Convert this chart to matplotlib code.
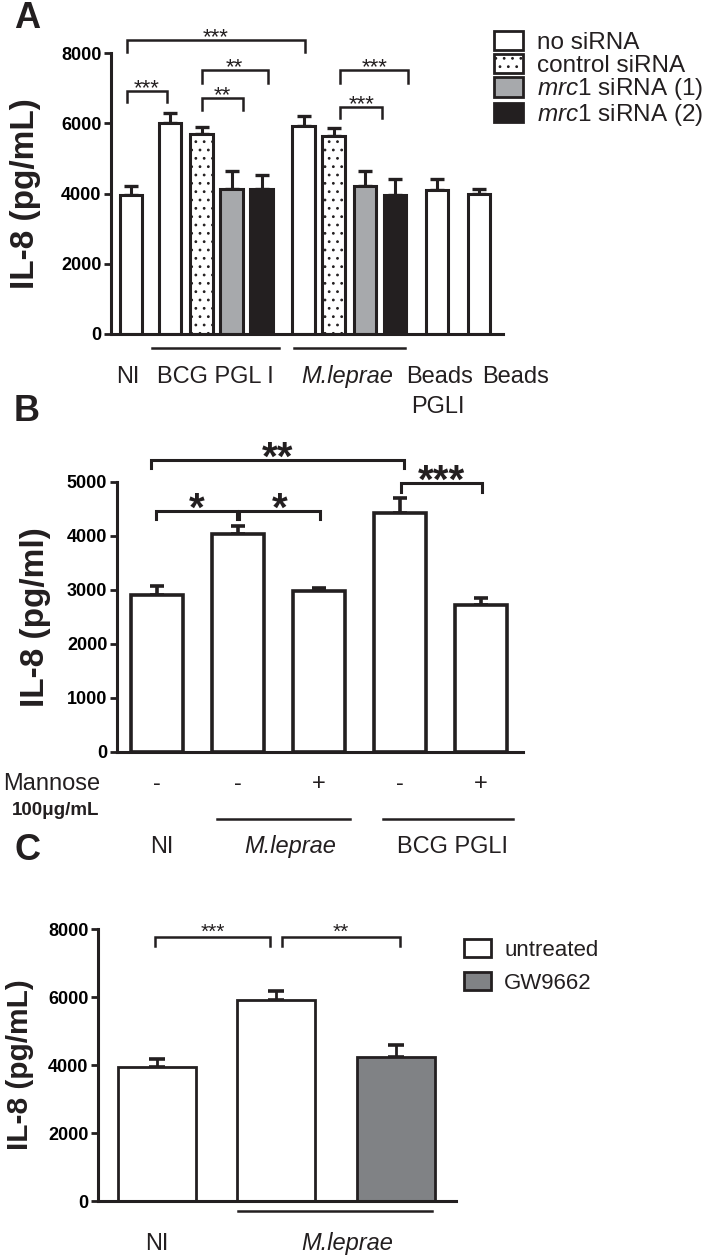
import numpy as np
import matplotlib
matplotlib.use("Agg")
import matplotlib.pyplot as plt
from matplotlib.patches import Patch

plt.rcParams["font.family"] = ["Liberation Sans", "DejaVu Sans"]
plt.rcParams["mathtext.fontset"] = "custom"
plt.rcParams["mathtext.rm"] = "Liberation Sans"
plt.rcParams["mathtext.it"] = "Liberation Sans:italic"
plt.rcParams["hatch.linewidth"] = 0.8

INK = "#231f20"

# ---------------- Panel A: siRNA knock-down ----------------
a_pos = [0, 1.3, 2.35, 3.35, 4.35, 5.75, 6.75, 7.8, 8.8, 10.2, 11.6]
a_mean = [3950, 6000, 5680, 4130, 4130, 5920, 5640, 4200, 3960, 4100, 4000]
a_err = [250, 300, 210, 520, 400, 280, 220, 450, 460, 300, 120]
a_kind = ["none", "none", "ctrl", "mrc1a", "mrc1b",
          "none", "ctrl", "mrc1a", "mrc1b", "none", "none"]
a_legend = ["no siRNA", "control siRNA",
            r"$\mathit{mrc1}$ siRNA (1)", r"$\mathit{mrc1}$ siRNA (2)"]
# (left, right, bar height, drop, text)
a_sig = [(-0.15, 5.8, 8370, 340, "***"),
         (-0.15, 1.2, 6918, 310, "***"),
         (2.35, 4.55, 7516, 370, "**"),
         (2.35, 3.72, 6719, 340, "**"),
         (6.98, 9.23, 7516, 370, "***"),
         (6.98, 8.37, 6463, 310, "***")]

# ---------------- Panel B: mannose ----------------
b_pos = [0, 1, 2, 3, 4]
b_mean = [2900, 4040, 2980, 4420, 2730]
b_err = [170, 140, 50, 280, 130]
b_mannose = ["-", "-", "+", "-", "+"]
b_sig = [(-0.07, 3.05, 5407, 150, "**"),
         (-0.01, 0.99, 4463, 150, "*"),
         (1.02, 2.01, 4463, 150, "*"),
         (3.01, 4.01, 4981, 170, "***")]

# ---------------- Panel C: GW9662 ----------------
c_pos = [0, 1, 2]
c_mean = [3950, 5900, 4250]
c_err = [230, 280, 340]
c_color = ["white", "white", "#808285"]
c_sig = [(-0.01, 0.95, 7765, 260, "***"),
         (1.05, 2.03, 7765, 260, "**")]

styles = {
    "none": dict(facecolor="white", hatch=None),
    "ctrl": dict(facecolor="white", hatch=".."),
    "mrc1a": dict(facecolor="#a7a9ac", hatch=None),
    "mrc1b": dict(facecolor=INK, hatch=None),
}

W, H = 710, 1257
fig = plt.figure(figsize=(W / 100, H / 100), dpi=100)


def add_ax(left, top, right, bottom):
    ax = fig.add_axes([left / W, 1 - bottom / H, (right - left) / W, (bottom - top) / H])
    for s in ["top", "right"]:
        ax.spines[s].set_visible(False)
    for s in ["left", "bottom"]:
        ax.spines[s].set_linewidth(2.2)
        ax.spines[s].set_color(INK)
    ax.set_xticks([])
    ax.tick_params(axis="y", direction="out", length=5, width=2.0,
                   color=INK, labelsize=13, pad=2)
    return ax


def bold_ticks(ax):
    for lbl in ax.get_yticklabels():
        lbl.set_fontweight("bold")


def bracket(ax, x1, x2, y, drop, text, fs, gap, lw=1.8, weight="normal"):
    ax.plot([x1, x1, x2, x2], [y - drop, y, y, y - drop], color=INK, lw=lw,
            clip_on=False, solid_joinstyle="miter")
    ax.annotate(text, xy=((x1 + x2) / 2, y), xytext=(0, gap - 0.28 * fs),
                textcoords="offset points", ha="center", va="baseline",
                fontsize=fs, color=INK, weight=weight, annotation_clip=False)


lab_kw = dict(fontsize=17, color=INK, ha="center", va="baseline", clip_on=False)

# ---------- A ----------
axA = add_ax(111, 53, 503, 334)
for x, m, e, k in zip(a_pos, a_mean, a_err, a_kind):
    st = styles[k]
    axA.bar(x, m, width=0.74, facecolor=st["facecolor"], hatch=st["hatch"],
            edgecolor=INK, linewidth=2.2, zorder=2)
axA.errorbar(a_pos, a_mean, yerr=[np.zeros(len(a_err)), a_err], fmt="none",
             ecolor=INK, elinewidth=2.2, capsize=5, capthick=2.4, zorder=1)
axA.set_xlim(-0.67, 12.4)
axA.set_ylim(0, 8000)
axA.set_yticks(np.arange(0, 8001, 2000))
bold_ticks(axA)
axA.set_ylabel("IL-8 (pg/mL)", fontsize=24, fontweight="bold", color=INK)
axA.yaxis.set_label_coords(-0.178, 0.5)
for x1, x2, y, d, t in a_sig:
    bracket(axA, x1, x2, y, d, t, 16, 2.2)
# group lines
axA.plot([0.7, 4.93], [-400, -400], color=INK, lw=1.8, clip_on=False)
axA.plot([5.43, 9.13], [-400, -400], color=INK, lw=1.8, clip_on=False)
axA.text(-0.1, -1395, "NI", **lab_kw)
axA.text(2.8, -1395, "BCG PGL I", **lab_kw)
axA.text(7.2, -1395, "M.leprae", style="italic", **lab_kw)
axA.text(10.3, -1395, "Beads", **lab_kw)
axA.text(12.83, -1395, "Beads", **lab_kw)
axA.text(10.23, -2249, "PGLI", **lab_kw)

handles = [Patch(facecolor=styles[k]["facecolor"], hatch=styles[k]["hatch"],
                 edgecolor=INK, linewidth=2.0) for k in ["none", "ctrl", "mrc1a", "mrc1b"]]
fig.legend(handles, a_legend, loc="upper left", bbox_to_anchor=(494 / W, 1 - 31 / H),
           frameon=False, fontsize=17.5, handlelength=1.2, handleheight=0.85,
           handletextpad=0.55, labelspacing=-0.02, borderpad=0, borderaxespad=0,
           labelcolor=INK)

# ---------- B ----------
axB = add_ax(117, 482, 523, 752)
axB.bar(b_pos, b_mean, width=0.64, facecolor="white", edgecolor=INK,
        linewidth=2.6, zorder=2)
axB.errorbar(b_pos, b_mean, yerr=[np.zeros(len(b_err)), b_err], fmt="none",
             ecolor=INK, elinewidth=2.6, capsize=4.7, capthick=2.6, zorder=1)
axB.set_xlim(-0.49, 4.52)
axB.set_ylim(0, 5000)
axB.set_yticks(np.arange(0, 5001, 1000))
bold_ticks(axB)
axB.set_ylabel("IL-8 (pg/ml)", fontsize=24, fontweight="bold", color=INK)
axB.yaxis.set_label_coords(-0.163, 0.5)
for x1, x2, y, d, t in b_sig:
    bracket(axB, x1, x2, y, d, t, 29, 1.4, lw=2.2, weight="bold")
for x, s in zip(b_pos, b_mannose):
    axB.text(x, -704, s, **lab_kw)
axB.text(-1.9, -704, "Mannose", fontsize=17, color=INK, ha="left",
         va="baseline", clip_on=False)
axB.text(-1.79, -1167, "100μg/mL", fontsize=13.5, fontweight="bold", color=INK,
         ha="left", va="baseline", clip_on=False)
axB.plot([0.75, 2.38], [-1241, -1241], color=INK, lw=1.8, clip_on=False)
axB.plot([2.79, 4.4], [-1241, -1241], color=INK, lw=1.8, clip_on=False)
axB.text(0.06, -1870, "NI", **lab_kw)
axB.text(1.65, -1870, "M.leprae", style="italic", **lab_kw)
axB.text(3.65, -1870, "BCG PGLI", **lab_kw)

# ---------- C ----------
axC = add_ax(98, 929, 456, 1201)
axC.bar(c_pos, c_mean, width=0.65, color=c_color, edgecolor=INK,
        linewidth=2.0, zorder=2)
axC.errorbar(c_pos, c_mean, yerr=[np.zeros(len(c_err)), c_err], fmt="none",
             ecolor=INK, elinewidth=2.0, capsize=5.5, capthick=2.6, zorder=1)
axC.set_xlim(-0.49, 2.5)
axC.set_ylim(0, 8000)
axC.set_yticks(np.arange(0, 8001, 2000))
bold_ticks(axC)
axC.set_ylabel("IL-8 (pg/mL)", fontsize=21.5, fontweight="bold", color=INK)
axC.yaxis.set_label_coords(-0.18, 0.5)
for x1, x2, y, d, t in c_sig:
    bracket(axC, x1, x2, y, d, t, 15, 3.6)
axC.plot([0.68, 2.3], [-294, -294], color=INK, lw=1.8, clip_on=False)
axC.text(0, -1450, "NI", **lab_kw)
axC.text(1.59, -1450, "M.leprae", style="italic", **lab_kw)
c_handles = [Patch(facecolor=c, edgecolor=INK, linewidth=2.0) for c in ["white", "#808285"]]
fig.legend(c_handles, ["untreated", "GW9662"], loc="upper left",
           bbox_to_anchor=(464 / W, 1 - 939 / H), frameon=False, fontsize=16,
           handlelength=1.2, handleheight=0.9, handletextpad=0.6,
           labelspacing=0.5, borderpad=0, borderaxespad=0, labelcolor=INK)

# panel letters
for txt, px, py in [("A", 27, 18), ("B", 27, 412), ("C", 27, 850)]:
    fig.text(px / W, 1 - py / H, txt, fontsize=26, fontweight="bold",
             color=INK, ha="center", va="center")

fig.savefig("out.png", dpi=100)
